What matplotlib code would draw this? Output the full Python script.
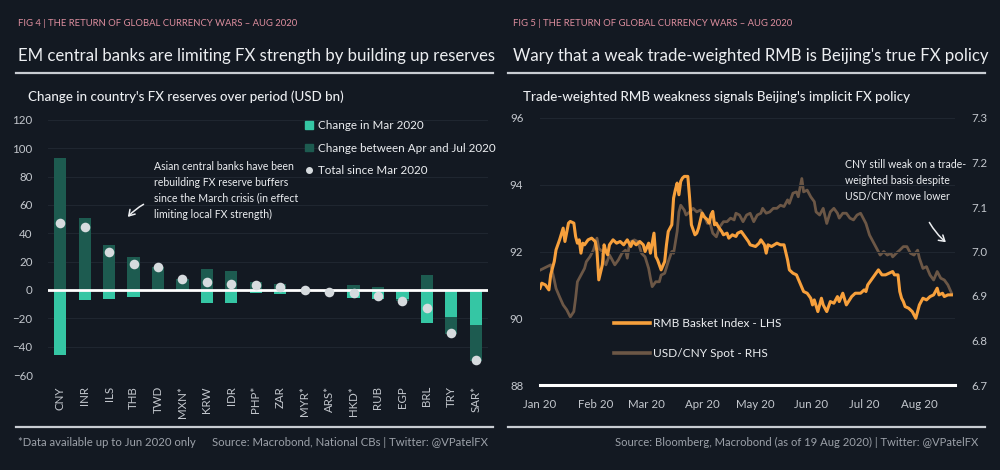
import matplotlib
matplotlib.use("Agg")
import matplotlib.pyplot as plt
import numpy as np
import pandas as pd
from matplotlib.lines import Line2D
from matplotlib.patches import Patch

# ---------------- data: Fig 4 ----------------
currencies = ["CNY", "INR", "ILS", "THB", "TWD", "MXN*", "KRW", "IDR", "PHP*",
              "ZAR", "MYR*", "ARS*", "HKD*", "RUB", "EGP", "BRL", "TRY", "SAR*"]
chg_mar = [-46, -7, -6, -5, 0.5, 0.5, -9, -9.5, -2, -2.5, -0.5, -1.2, -5.5,
           -6.5, -6, -23, -19, -25]
chg_apr_jul = [93, 51, 32, 23, 16, 7, 14.5, 13.5, 5.5, 4.5, 0.8, -0.3, 3.5,
               2, -2, 10.5, -12, -25]
total_since_mar = [47, 44.5, 26.5, 18.5, 16.3, 7.5, 5.5, 4.3, 3.5, 2, 0.3,
                   -1.5, -2, -4.5, -8, -12.5, -30.5, -49.5]
left_yticks = [-60, -40, -20, 0, 20, 40, 60, 80, 100, 120]

# ---------------- data: Fig 5 ----------------
base_date = "2020-01-01"
rmb_days = [0, 1, 3, 5, 6, 8, 9, 11, 13, 14, 16, 17, 19, 20, 21, 22, 23, 24,
            25, 27, 29, 31, 32, 33, 35, 36, 37, 38, 39, 41, 43, 45, 47, 49, 51,
            52, 54, 56, 58, 59, 61, 62, 64, 65, 66, 68, 70, 71, 72, 74, 75, 76,
            77, 78, 79, 80, 81, 83, 84, 85, 87, 88, 89, 91, 92, 94, 95, 96, 97,
            98, 99, 100, 102, 103, 105, 106, 108, 110, 111, 113, 115, 117, 118,
            121, 123, 124, 126, 127, 128, 130, 133, 135, 137, 139, 140, 142,
            144, 146, 148, 150, 152, 153, 154, 156, 158, 159, 161, 163, 165,
            167, 168, 170, 172, 175, 177, 180, 182, 183, 184, 186, 188, 190,
            192, 194, 196, 198, 199, 201, 202, 203, 204, 205, 207, 209, 210,
            211, 212, 213, 214, 215, 217, 219, 221, 223, 224, 226, 227, 229, 231]
rmb_basket = [90.9, 91.05, 91.0, 90.85, 91.3, 91.7, 92.05, 92.35, 92.7, 92.3,
              92.85, 92.9, 92.85, 92.45, 92.25, 92.35, 91.95, 92.25, 92.2,
              92.35, 92.4, 92.3, 92.0, 91.15, 91.6, 92.2, 92.0, 91.9, 92.2,
              92.35, 92.25, 92.3, 92.2, 92.35, 92.15, 92.3, 92.2, 92.3, 92.2,
              92.0, 92.25, 91.95, 92.55, 91.85, 91.75, 91.45, 91.7, 92.2, 92.6,
              92.8, 93.6, 93.85, 94.05, 93.7, 94.1, 94.2, 94.25, 94.25, 93.6,
              92.8, 92.5, 92.55, 92.7, 93.15, 93.05, 92.95, 92.85, 93.1, 93.2,
              92.8, 92.85, 92.75, 92.6, 92.5, 92.55, 92.4, 92.5, 92.45, 92.55,
              92.6, 92.45, 92.3, 92.2, 92.15, 92.25, 92.35, 92.2, 91.95, 92.2,
              92.15, 92.25, 92.2, 92.2, 91.75, 91.45, 91.35, 91.3, 91.05, 90.8,
              90.75, 90.6, 90.4, 90.55, 90.2, 90.6, 90.4, 90.2, 90.5, 90.45,
              90.65, 90.5, 90.75, 90.4, 90.65, 90.75, 90.75, 90.85, 90.8, 91.0,
              91.15, 91.3, 91.45, 91.3, 91.3, 91.35, 91.4, 91.3, 91.3, 90.8,
              90.6, 90.5, 90.35, 90.3, 90.2, 90.1, 90.0, 90.2, 90.4, 90.5, 90.6,
              90.55, 90.65, 90.7, 90.9, 90.7, 90.75, 90.65, 90.7, 90.7]
usdcny_days = [0, 4, 6, 8, 9, 11, 13, 15, 16, 17, 19, 20, 21, 23, 25, 26, 28,
               30, 32, 33, 35, 36, 37, 39, 40, 42, 44, 46, 48, 49, 50, 51, 53,
               55, 57, 59, 61, 62, 63, 65, 67, 68, 70, 72, 74, 75, 77, 78, 79,
               81, 82, 84, 86, 88, 90, 92, 94, 95, 97, 99, 101, 103, 105, 107,
               109, 110, 112, 114, 116, 118, 120, 122, 124, 125, 127, 129, 131,
               133, 135, 137, 139, 140, 142, 144, 145, 147, 148, 150, 152, 154,
               155, 157, 159, 161, 163, 165, 167, 168, 170, 172, 174, 176, 178,
               180, 182, 183, 185, 187, 189, 191, 193, 195, 197, 198, 200, 202,
               204, 206, 208, 210, 212, 213, 215, 217, 219, 221, 223, 225, 227,
               229, 231]
usdcny_spot = [6.958, 6.966, 6.970, 6.936, 6.917, 6.898, 6.880, 6.869, 6.861,
               6.853, 6.865, 6.895, 6.932, 6.947, 6.962, 6.977, 6.988, 7.003,
               7.030, 7.007, 7.000, 6.977, 6.970, 6.992, 6.985, 6.970, 6.981,
               6.996, 7.003, 6.985, 7.011, 7.022, 7.026, 7.022, 6.996, 6.988,
               6.962, 6.940, 6.921, 6.932, 6.932, 6.947, 6.951, 6.977, 7.000,
               6.996, 7.045, 7.089, 7.104, 7.093, 7.082, 7.089, 7.097, 7.089,
               7.093, 7.082, 7.063, 7.071, 7.041, 7.033, 7.056, 7.067, 7.067,
               7.075, 7.071, 7.086, 7.082, 7.067, 7.082, 7.086, 7.067, 7.082,
               7.086, 7.097, 7.086, 7.089, 7.097, 7.097, 7.104, 7.101, 7.116,
               7.108, 7.131, 7.134, 7.123, 7.164, 7.134, 7.138, 7.123, 7.112,
               7.089, 7.082, 7.097, 7.063, 7.089, 7.097, 7.086, 7.075, 7.086,
               7.086, 7.075, 7.071, 7.082, 7.086, 7.071, 7.063, 7.037, 7.022,
               7.007, 6.992, 7.000, 6.992, 6.996, 6.988, 6.996, 7.003, 7.011,
               7.011, 6.996, 6.992, 7.003, 6.985, 6.962, 6.966, 6.947, 6.936,
               6.955, 6.940, 6.936, 6.925, 6.907]
month_ticks = ["2020-01-01", "2020-02-01", "2020-03-01", "2020-04-01",
               "2020-05-01", "2020-06-01", "2020-07-01", "2020-08-01"]
month_labels = ["Jan 20", "Feb 20", "Mar 20", "Apr 20", "May 20", "Jun 20",
                "Jul 20", "Aug 20"]
rmb_yticks = [88, 90, 92, 94, 96]
usd_yticks = [6.7, 6.8, 6.9, 7.0, 7.1, 7.2, 7.3]

assert len(rmb_days) == len(rmb_basket)
assert len(usdcny_days) == len(usdcny_spot)

# ---------------- style ----------------
BG = "#131922"
LIGHT = "#35c6a4"
DARK = "#1d5b50"
DOT = "#d6dbde"
ORANGE = "#f7a03c"
BROWN = "#6c5746"
WHITE = "#eceef1"
TICK = "#c3c7cd"
PINK = "#dd8e9e"
GRID = "#1f2630"
FOOT = "#9ca1a9"

plt.rcParams["font.family"] = ["Lato", "DejaVu Sans"]

W, H = 1000, 470
fig = plt.figure(figsize=(W / 100, H / 100), dpi=100, facecolor=BG)


def fx(x):
    return x / W


def fy(y):
    return 1 - y / H


def ftext(x, y, s, **kw):
    fig.text(fx(x), fy(y), s, **kw)


def hline(x0, x1, y, color="#c9cdd3", lw=1.6):
    fig.add_artist(Line2D([fx(x0), fx(x1)], [fy(y), fy(y)], color=color,
                          lw=lw, transform=fig.transFigure))


# headers
for x0, x1, tx, fig_lbl, title, sub in [
    (16, 493, 18, "FIG 4 | THE RETURN OF GLOBAL CURRENCY WARS \u2013 AUG 2020",
     "EM central banks are limiting FX strength by building up reserves",
     "Change in country's FX reserves over period (USD bn)"),
    (508, 985, 513, "FIG 5 | THE RETURN OF GLOBAL CURRENCY WARS \u2013 AUG 2020",
     "Wary that a weak trade-weighted RMB is Beijing's true FX policy",
     "Trade-weighted RMB weakness signals Beijing's implicit FX policy")]:
    ftext(tx, 24, fig_lbl, color=PINK, fontsize=6.8, va="center")
    ftext(tx, 56, title, color=WHITE, fontsize=12.1, va="center")
    hline(x0, x1, 73)
    ftext(tx + 10, 97, sub, color=WHITE, fontsize=9.6, va="center",
          fontweight="medium")
    hline(x0, x1, 427)

ftext(18, 442, "*Data available up to Jun 2020 only", color=FOOT, fontsize=8.2,
      va="center")
ftext(488, 442, "Source: Macrobond, National CBs | Twitter: @VPatelFX",
      color=FOOT, fontsize=8.2, va="center", ha="right")
ftext(978, 442,
      "Source: Bloomberg, Macrobond (as of 19 Aug 2020) | Twitter: @VPatelFX",
      color=FOOT, fontsize=8.1, va="center", ha="right")

# ---------------- Fig 4: bars ----------------
axL = fig.add_axes([fx(48), fy(375), fx(488) - fx(48), fy(120) - fy(375)])
axL.set_facecolor("none")
xpos = np.arange(len(currencies))
mar = np.array(chg_mar, dtype=float)
aj = np.array(chg_apr_jul, dtype=float)
mar_bottom = np.zeros_like(mar)
aj_bottom = np.where(np.sign(aj) == np.sign(mar), mar, 0.0)
bw = 0.5
axL.bar(xpos, mar, bw, bottom=mar_bottom, color=LIGHT, zorder=2)
axL.bar(xpos, aj, bw, bottom=aj_bottom, color=DARK, zorder=2)
axL.scatter(xpos, total_since_mar, s=48, color=DOT, zorder=4, linewidths=0)
axL.axhline(0, color="white", lw=2, zorder=3)
axL.set_ylim(-60, 120)
axL.set_xlim(-0.5, len(currencies) - 0.5)
axL.set_yticks(left_yticks)
axL.set_xticks(xpos)
axL.set_xticklabels(currencies, rotation=90)
axL.tick_params(axis="both", length=0, colors=TICK, labelsize=8.3)
axL.tick_params(axis="y", pad=11)
axL.tick_params(axis="x", pad=8)
axL.grid(axis="y", color=GRID, lw=0.8, zorder=0)
for s in axL.spines.values():
    s.set_visible(False)

legL = axL.legend(
    handles=[Patch(color=LIGHT, label="Change in Mar 2020"),
             Patch(color=DARK, label="Change between Apr and Jul 2020"),
             Line2D([], [], marker="o", ls="none", color=DOT, markersize=4,
                    label="Total since Mar 2020")],
    loc="upper left", bbox_to_anchor=(fx(305), fy(120)),
    bbox_transform=fig.transFigure, frameon=False, fontsize=8.4,
    handlelength=0.65, handleheight=0.65, handletextpad=0.45,
    labelspacing=1.0, borderpad=0, borderaxespad=0)
for t in legL.get_texts():
    t.set_color(WHITE)

for i, line in enumerate(["Asian central banks have been",
                          "rebuilding FX reserve buffers",
                          "since the March crisis (in effect",
                          "limiting local FX strength)"]):
    ftext(154, 166 + 16 * i, line, color=WHITE, fontsize=7.6, va="center")
fig.add_artist(matplotlib.patches.FancyArrowPatch(
    (fx(146), fy(203)), (fx(126), fy(219)), transform=fig.transFigure,
    arrowstyle="->,head_length=4,head_width=2.5", color=WHITE, lw=1.1,
    connectionstyle="arc3,rad=0.1"))

# ---------------- Fig 5: lines ----------------
base = pd.Timestamp(base_date)
rmb_dates = base + pd.to_timedelta(rmb_days, unit="D")
usd_dates = base + pd.to_timedelta(usdcny_days, unit="D")

axR = fig.add_axes([fx(540), fy(385), fx(955) - fx(540), fy(118) - fy(385)])
axR2 = axR.twinx()
axR.set_zorder(axR2.get_zorder() + 1)
axR.set_facecolor("none")
axR2.set_facecolor("none")

axR2.plot(usd_dates, usdcny_spot, color=BROWN, lw=2.0)
axR.plot(rmb_dates, rmb_basket, color=ORANGE, lw=2.2)

axR.set_ylim(88, 96)
axR2.set_ylim(6.7, 7.3)
axR.set_xlim(base, base + pd.Timedelta(days=233))
axR.set_yticks(rmb_yticks)
axR2.set_yticks(usd_yticks)
axR2.set_yticklabels([f"{v:.1f}" for v in usd_yticks])
axR.set_xticks(pd.to_datetime(month_ticks))
axR.set_xticklabels(month_labels)
axR.grid(axis="y", color=GRID, lw=0.8)
axR.axhline(88, color="white", lw=2.2, clip_on=False)
for a in (axR, axR2):
    for s in a.spines.values():
        s.set_visible(False)
    a.tick_params(axis="both", length=0, colors=TICK, labelsize=8.3)
axR.tick_params(axis="y", pad=12)
axR2.tick_params(axis="y", pad=12)
axR.tick_params(axis="x", pad=10)

legR = axR.legend(
    handles=[Line2D([], [], color=ORANGE, lw=2.6, label="RMB Basket Index - LHS"),
             Line2D([], [], color=BROWN, lw=2.6, label="USD/CNY Spot - RHS")],
    loc="upper left", bbox_to_anchor=(fx(614), fy(318)),
    bbox_transform=fig.transFigure, frameon=False, fontsize=8.6,
    handlelength=3.0, handletextpad=0.25, labelspacing=1.6, borderpad=0,
    borderaxespad=0)
for t in legR.get_texts():
    t.set_color(WHITE)

for i, line in enumerate(["CNY still weak on a trade-", "weighted basis despite",
                          "USD/CNY move lower"]):
    ftext(845, 165 + 16 * i, line, color=WHITE, fontsize=7.6, va="center")
fig.add_artist(matplotlib.patches.FancyArrowPatch(
    (fx(928), fy(220)), (fx(948), fy(244)), transform=fig.transFigure,
    arrowstyle="->,head_length=4,head_width=2.5", color=WHITE, lw=1.1,
    connectionstyle="arc3,rad=0.1"))

fig.savefig("out.png", dpi=100, facecolor=BG)
